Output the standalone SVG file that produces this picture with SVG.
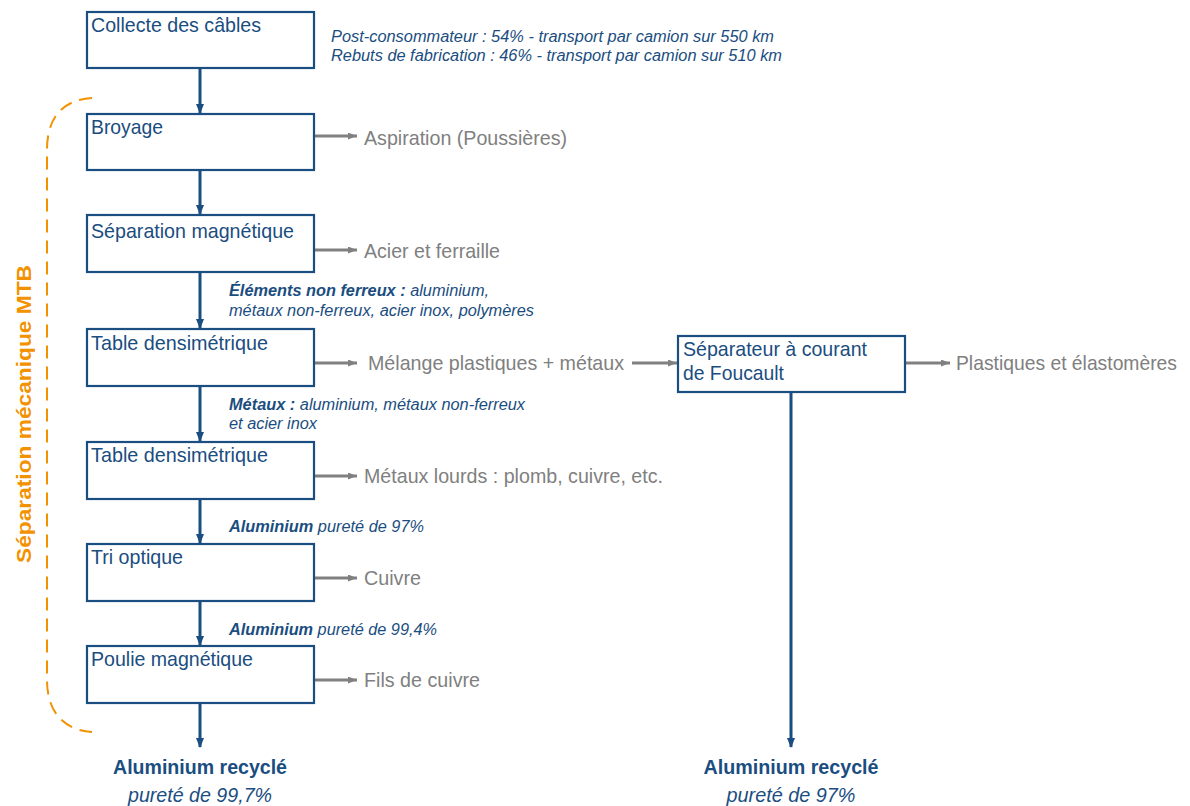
<svg xmlns="http://www.w3.org/2000/svg" width="1190" height="806" viewBox="0 0 1190 806">
<style>
.box{fill:#fff;stroke:#1a4d80;stroke-width:2.2}
.bt{font-family:"Liberation Sans Narrow","Liberation Sans",Arial,sans-serif;font-size:21px;fill:#1a4d80}
.gt{font-family:"Liberation Sans Narrow","Liberation Sans",Arial,sans-serif;font-size:21px;fill:#808080}
.it{font-family:"Liberation Sans Narrow","Liberation Sans",Arial,sans-serif;font-size:16px;font-style:italic;fill:#1a4d80}
.b{font-weight:bold}
.res{font-family:"Liberation Sans Narrow","Liberation Sans",Arial,sans-serif;font-size:21px;fill:#1a4d80;text-anchor:middle}
.bl{stroke:#1a4d80;stroke-width:3;fill:none}
.gl{stroke:#808080;stroke-width:3;fill:none}
</style>
<defs>
<marker id="ab" markerWidth="10" markerHeight="8" refX="9" refY="4" orient="auto" markerUnits="userSpaceOnUse"><path d="M0,0 L10,4 L0,8 z" fill="#1a4d80"/></marker>
<marker id="ag" markerWidth="9" markerHeight="7" refX="9" refY="3.5" orient="auto" markerUnits="userSpaceOnUse"><path d="M0,0 L9,3.5 L0,7 z" fill="#808080"/></marker>
</defs>

<g id="bracket">
<path d="M92 98 C62 100 47 118 47 150 L47 680 C47 710 62 730 92 732" fill="none" stroke="#f39200" stroke-width="2" stroke-dasharray="13 8"/>
<text transform="translate(31,414) rotate(-90)" text-anchor="middle" font-family="Liberation Sans Narrow,Liberation Sans,Arial,sans-serif" font-size="21" font-weight="bold" fill="#f39200" textLength="298" lengthAdjust="spacingAndGlyphs">Séparation mécanique MTB</text>
</g>

<g id="connectors">
<line class="bl" x1="200" y1="69" x2="200" y2="113" marker-end="url(#ab)"/>
<line class="bl" x1="200" y1="171" x2="200" y2="214" marker-end="url(#ab)"/>
<line class="bl" x1="200" y1="273" x2="200" y2="328" marker-end="url(#ab)"/>
<line class="bl" x1="200" y1="387" x2="200" y2="441" marker-end="url(#ab)"/>
<line class="bl" x1="200" y1="500" x2="200" y2="543" marker-end="url(#ab)"/>
<line class="bl" x1="200" y1="602" x2="200" y2="645" marker-end="url(#ab)"/>
<line class="bl" x1="200" y1="704" x2="200" y2="747" marker-end="url(#ab)"/>
<line class="bl" x1="791" y1="393" x2="791" y2="747" marker-end="url(#ab)"/>
<line class="gl" x1="315" y1="136" x2="357" y2="136" marker-end="url(#ag)"/>
<line class="gl" x1="315" y1="250" x2="357" y2="250" marker-end="url(#ag)"/>
<line class="gl" x1="315" y1="363" x2="357" y2="363" marker-end="url(#ag)"/>
<line class="gl" x1="315" y1="476" x2="357" y2="476" marker-end="url(#ag)"/>
<line class="gl" x1="315" y1="578" x2="357" y2="578" marker-end="url(#ag)"/>
<line class="gl" x1="315" y1="680" x2="357" y2="680" marker-end="url(#ag)"/>
<line class="gl" x1="632" y1="363" x2="677" y2="363" marker-end="url(#ag)"/>
<line class="gl" x1="906" y1="363" x2="950" y2="363" marker-end="url(#ag)"/>
</g>

<g id="n1"><rect class="box" x="87" y="12" width="227" height="56"/><text class="bt" x="91" y="32" textLength="170" lengthAdjust="spacingAndGlyphs">Collecte des câbles</text></g>
<g id="n2"><rect class="box" x="87" y="114" width="227" height="56"/><text class="bt" x="91" y="134" textLength="72" lengthAdjust="spacingAndGlyphs">Broyage</text></g>
<g id="n3"><rect class="box" x="87" y="215" width="227" height="57"/><text class="bt" x="91" y="238" textLength="203" lengthAdjust="spacingAndGlyphs">Séparation magnétique</text></g>
<g id="n4"><rect class="box" x="87" y="329" width="227" height="57"/><text class="bt" x="91" y="350" textLength="177" lengthAdjust="spacingAndGlyphs">Table densimétrique</text></g>
<g id="n5"><rect class="box" x="87" y="442" width="227" height="57"/><text class="bt" x="91" y="462" textLength="177" lengthAdjust="spacingAndGlyphs">Table densimétrique</text></g>
<g id="n6"><rect class="box" x="87" y="544" width="227" height="57"/><text class="bt" x="91" y="564" textLength="92" lengthAdjust="spacingAndGlyphs">Tri optique</text></g>
<g id="n7"><rect class="box" x="87" y="646" width="227" height="57"/><text class="bt" x="91" y="666" textLength="162" lengthAdjust="spacingAndGlyphs">Poulie magnétique</text></g>
<g id="n8"><rect class="box" x="678" y="336" width="227" height="56"/><text class="bt" x="683" y="356" textLength="184" lengthAdjust="spacingAndGlyphs">Séparateur à courant</text><text class="bt" x="683" y="380" textLength="101" lengthAdjust="spacingAndGlyphs">de Foucault</text></g>

<g id="outputs">
<text class="gt" x="364" y="145" textLength="203" lengthAdjust="spacingAndGlyphs">Aspiration (Poussières)</text>
<text class="gt" x="364" y="258" textLength="136" lengthAdjust="spacingAndGlyphs">Acier et ferraille</text>
<text class="gt" x="368" y="370" textLength="256" lengthAdjust="spacingAndGlyphs">Mélange plastiques + métaux</text>
<text class="gt" x="364" y="483" textLength="299" lengthAdjust="spacingAndGlyphs">Métaux lourds : plomb, cuivre, etc.</text>
<text class="gt" x="364" y="585" textLength="57" lengthAdjust="spacingAndGlyphs">Cuivre</text>
<text class="gt" x="364" y="687" textLength="116" lengthAdjust="spacingAndGlyphs">Fils de cuivre</text>
<text class="gt" x="956" y="370" textLength="221" lengthAdjust="spacingAndGlyphs">Plastiques et élastomères</text>
</g>

<g id="labels">
<text class="it" x="331" y="42" textLength="443" lengthAdjust="spacingAndGlyphs">Post-consommateur : 54% - transport par camion sur 550 km</text>
<text class="it" x="331" y="61" textLength="451" lengthAdjust="spacingAndGlyphs">Rebuts de fabrication : 46% - transport par camion sur 510 km</text>
<text class="it" x="229" y="296" textLength="260" lengthAdjust="spacingAndGlyphs"><tspan class="b">Éléments non ferreux :</tspan> aluminium,</text>
<text class="it" x="229" y="316" textLength="305" lengthAdjust="spacingAndGlyphs">métaux non-ferreux, acier inox, polymères</text>
<text class="it" x="229" y="410" textLength="296" lengthAdjust="spacingAndGlyphs"><tspan class="b">Métaux :</tspan> aluminium, métaux non-ferreux</text>
<text class="it" x="229" y="429" textLength="88" lengthAdjust="spacingAndGlyphs">et acier inox</text>
<text class="it" x="229" y="532" textLength="195" lengthAdjust="spacingAndGlyphs"><tspan class="b">Aluminium</tspan> pureté de 97%</text>
<text class="it" x="229" y="635" textLength="208" lengthAdjust="spacingAndGlyphs"><tspan class="b">Aluminium</tspan> pureté de 99,4%</text>
</g>

<g id="result1">
<text class="res b" x="200" y="774" textLength="174" lengthAdjust="spacingAndGlyphs">Aluminium recyclé</text>
<text class="res" x="200" y="802" font-style="italic" textLength="144" lengthAdjust="spacingAndGlyphs">pureté de 99,7%</text>
</g>
<g id="result2">
<text class="res b" x="791" y="774" textLength="175" lengthAdjust="spacingAndGlyphs">Aluminium recyclé</text>
<text class="res" x="791" y="802" font-style="italic" textLength="129" lengthAdjust="spacingAndGlyphs">pureté de 97%</text>
</g>
</svg>
